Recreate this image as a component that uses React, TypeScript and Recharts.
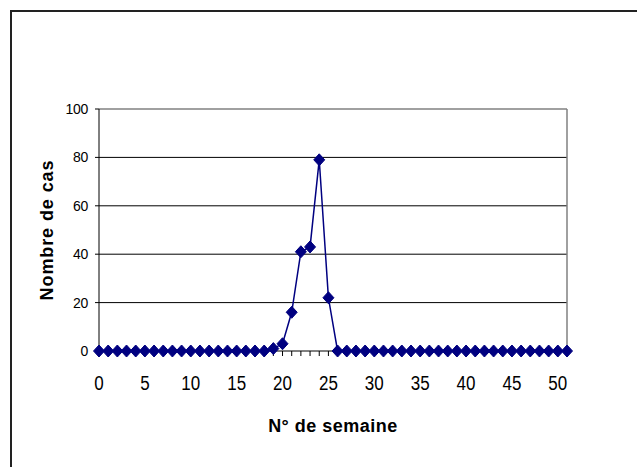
import { LineChart, Line, XAxis, YAxis, CartesianGrid, ReferenceLine, Label } from "recharts";

const weeks = Array.from({ length: 52 }, (_, i) => i);
const cases = [
  0, 0, 0, 0, 0, 0, 0, 0, 0, 0,
  0, 0, 0, 0, 0, 0, 0, 0, 0, 1,
  3, 16, 41, 43, 79, 22, 0, 0, 0, 0,
  0, 0, 0, 0, 0, 0, 0, 0, 0, 0,
  0, 0, 0, 0, 0, 0, 0, 0, 0, 0,
  0, 0,
];
const yTicks = [0, 20, 40, 60, 80, 100];

const data = weeks.map((w, i) => ({ week: w, cas: cases[i] }));

const FONT = "'Liberation Sans', Arial, sans-serif";

function XTick(props: any) {
  const { x, y, payload } = props;
  if (payload.value % 5 !== 0) return <g />;
  return (
    <g transform={`translate(${x},${y}) scale(1,1.22)`}>
      <text x={0} y={0} dy="0.71em" textAnchor="middle" fontSize={17} fontFamily={FONT} fill="#000">
        {payload.value}
      </text>
    </g>
  );
}

function Diamond(props: any) {
  const { cx, cy, index } = props;
  if (cx == null || cy == null) return <g key={index} />;
  return (
    <path
      key={index}
      d={`M${cx},${cy - 6} L${cx + 5.5},${cy} L${cx},${cy + 6} L${cx - 5.5},${cy} Z`}
      fill="#000080"
      stroke="#000080"
      strokeWidth={1}
    />
  );
}

export default function App() {
  return (
    <div style={{ position: "absolute", left: 0, top: 0, width: 637, height: 467, background: "#fff", overflow: "hidden" }}>
      <div
        style={{
          position: "absolute",
          left: 10,
          top: 10,
          width: 640,
          height: 470,
          borderTop: "2px solid #222",
          borderLeft: "2px solid #222",
        }}
      />
      <div style={{ position: "absolute", left: 0, top: 0 }}>
        <LineChart width={637} height={467} data={data} margin={{ top: 109, right: 70, bottom: 0, left: 0 }}>
          <CartesianGrid vertical={false} horizontalValues={[20, 40, 60, 80]} stroke="#000" strokeWidth={1} />
          <ReferenceLine y={100} stroke="#808080" strokeWidth={1.5} />
          <ReferenceLine x={51} stroke="#808080" strokeWidth={1.5} />
          <XAxis
            dataKey="week"
            type="number"
            domain={[0, 51]}
            ticks={weeks}
            interval={0}
            height={116}
            tickSize={5}
            tickMargin={19}
            stroke="#000"
            tick={<XTick />}
          >
            <Label
              value="N° de semaine"
              position="insideBottom"
              offset={35}
              style={{ fontFamily: FONT, fontSize: 18, fontWeight: "bold", fill: "#000", letterSpacing: 0.5 }}
            />
          </XAxis>
          <YAxis
            type="number"
            domain={[0, 100]}
            ticks={yTicks}
            width={99}
            tickSize={4}
            tickMargin={7}
            stroke="#000"
            tick={{ fontSize: 14, fontFamily: FONT, fill: "#000", letterSpacing: -0.3 }}
          >
            <Label
              value="Nombre de cas"
              angle={-90}
              position="insideLeft"
              offset={47}
              style={{ fontFamily: FONT, fontSize: 18, fontWeight: "bold", fill: "#000", textAnchor: "middle", letterSpacing: 0.9 }}
            />
          </YAxis>
          <Line
            type="linear"
            dataKey="cas"
            stroke="#000080"
            strokeWidth={1.5}
            dot={<Diamond />}
            activeDot={false}
            isAnimationActive={false}
          />
        </LineChart>
      </div>
    </div>
  );
}
